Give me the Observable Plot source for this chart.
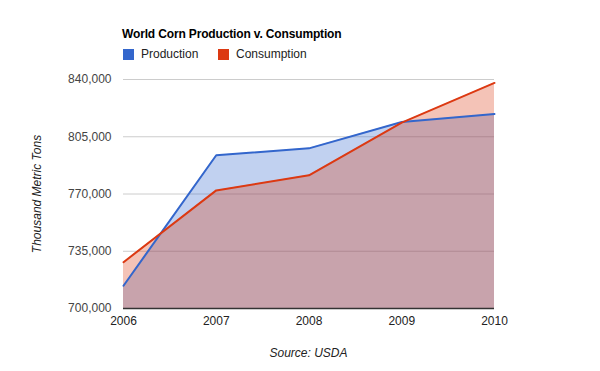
<!DOCTYPE html>
<html>
<head>
<meta charset="utf-8">
<script src="https://cdn.jsdelivr.net/npm/d3@7"></script>
<script src="https://cdn.jsdelivr.net/npm/@observablehq/plot@0.6"></script>
<style>
  html, body { margin: 0; padding: 0; background: #fff; }
  body { width: 600px; height: 371px; overflow: hidden; font-family: "Liberation Sans", Arial, sans-serif; }
  #header { position: relative; height: 65px; }
  #title { position: absolute; left: 122px; top: 26px; font-size: 12px; font-weight: bold; color: #000; line-height: 16px; letter-spacing: -0.15px; }
  .leg { position: absolute; top: 47px; font-size: 12px; color: #222; line-height: 14px; display: flex; align-items: center; }
  .sw { width: 11px; height: 11px; display: inline-block; margin-right: 7px; }
  #chart svg { display: block; }
  #caption { height: 36px; line-height: 36px; text-align: center; font-style: italic; font-size: 12px; color: #222; padding-left: 17px; }
</style>
</head>
<body>
<div id="header">
  <div id="title">World Corn Production v. Consumption</div>
  <div class="leg" style="left:123px"><span class="sw" style="background:#3366cc"></span>Production</div>
  <div class="leg" style="left:218px"><span class="sw" style="background:#dc3912"></span>Consumption</div>
</div>
<div id="chart"></div>
<div id="caption">Source: USDA</div>
<script>
const years = [2006, 2007, 2008, 2009, 2010];
const production = [713900, 793700, 797900, 814000, 818900];
const consumption = [728300, 772200, 781400, 813600, 837900];
const yTicks = [700000, 735000, 770000, 805000, 840000];

const prodData = years.map((y, i) => ({year: y, value: production[i]}));
const consData = years.map((y, i) => ({year: y, value: consumption[i]}));
const base = 700000;

const chart = Plot.plot({
  width: 600,
  height: 270,
  marginLeft: 123,
  marginRight: 106,
  marginTop: 14,
  marginBottom: 27,
  style: { fontFamily: "Liberation Sans, Arial, sans-serif", fontSize: "12px", background: "#fff" },
  x: { domain: [2006, 2010], ticks: years, tickFormat: d => String(d), label: null },
  y: { domain: [700000, 840000], ticks: yTicks, tickFormat: d3.format(","), label: null },
  marks: [
    Plot.gridY(yTicks, { stroke: "#cccccc", strokeOpacity: 1 }),
    Plot.areaY(prodData, { x: "year", y1: d => base, y2: "value", fill: "#3366cc", fillOpacity: 0.3 }),
    Plot.areaY(consData, { x: "year", y1: d => base, y2: "value", fill: "#dc3912", fillOpacity: 0.3 }),
    Plot.ruleY([700000], { stroke: "#333", strokeWidth: 1.5 }),
    Plot.lineY(prodData, { x: "year", y: "value", stroke: "#3366cc", strokeWidth: 2 }),
    Plot.lineY(consData, { x: "year", y: "value", stroke: "#dc3912", strokeWidth: 2 }),
    Plot.axisX({ ticks: years, tickSize: 0, tickPadding: 8, tickFormat: d => String(d), color: "#222", label: null }),
    Plot.axisY({ ticks: yTicks, tickSize: 0, tickPadding: 12, tickFormat: d3.format(","), color: "#444", label: null }),
    Plot.text(["Thousand Metric Tons"], { text: d => d, frameAnchor: "left", textAnchor: "middle", dx: -86, rotate: -90, fontStyle: "italic", fill: "#222", fontSize: 12 })
  ]
});
document.getElementById("chart").appendChild(chart);
</script>
</body>
</html>
